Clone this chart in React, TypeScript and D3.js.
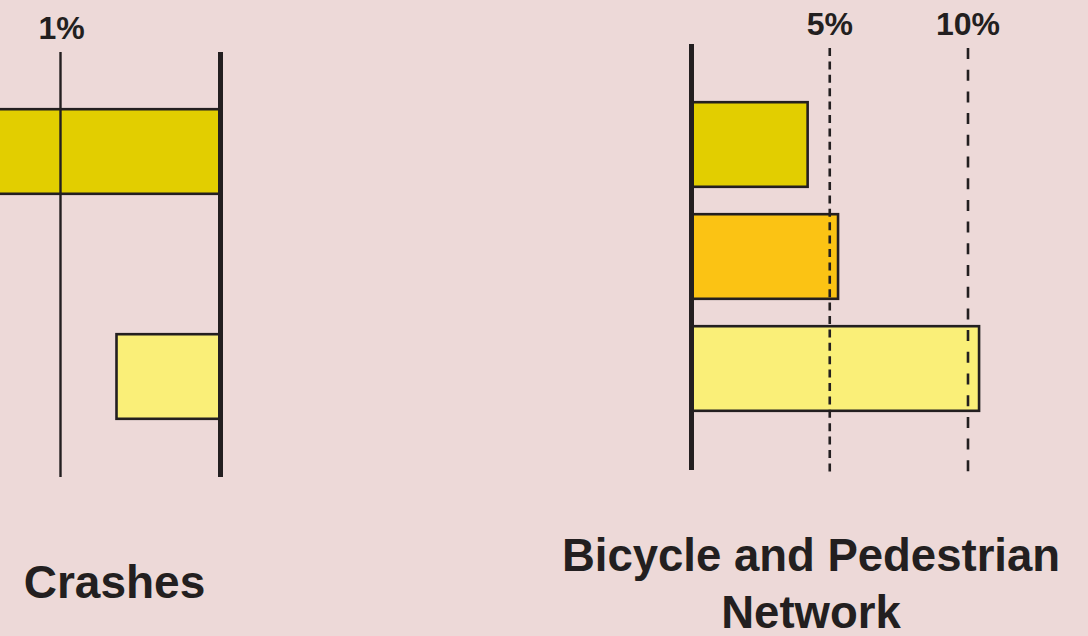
import React from "react";
import * as d3 from "d3";

const categories = ["Group A", "Group B", "Group C"];
const crashValues: (number | null)[] = [1.45, null, 0.65];
const networkValues: number[] = [4.2, 5.3, 10.4];
const barColors = ["#E2CE00", "#FBC314", "#FAEF78"];
const crashTicks = [1];
const networkTicks = [5, 10];
const crashTitle = ["Crashes"];
const networkTitle = ["Bicycle and Pedestrian", "Network"];

const W = 1088;
const H = 636;
const BG = "#EDD9D8";
const INK = "#231F20";
const FONT = "'Liberation Sans', Arial, Helvetica, sans-serif";

export default function App() {
  // Left panel: bars grow leftward from baseline
  const xL = d3.scaleLinear().domain([0, 1]).range([220.5, 60.5]);
  const yL = d3
    .scaleBand<string>()
    .domain(categories)
    .range([95.25, 432.75])
    .paddingInner(0.2267)
    .paddingOuter(0.11335);

  // Right panel
  const xR = d3.scaleLinear().domain([0, 10]).range([691.5, 968]);
  const yR = d3
    .scaleBand<string>()
    .domain(categories)
    .range([88.5, 424.5])
    .paddingInner(0.2232)
    .paddingOuter(0.1116);

  const tickDash = (t: number) => (t === 5 ? "8 5.4" : "11 10.7");

  return (
    <svg
      width={W}
      height={H}
      style={{ position: "absolute", left: 0, top: 0, display: "block" }}
      fontFamily={FONT}
    >
      <rect x={0} y={0} width={W} height={H} fill={BG} />

      {/* Left panel bars */}
      {crashValues.map((v, i) =>
        v == null ? null : (
          <rect
            key={"l" + i}
            x={xL(v)}
            y={(yL(categories[i]) as number) + 1.2}
            width={xL(0) - xL(v)}
            height={yL.bandwidth() - 2.4}
            fill={barColors[i]}
            stroke={INK}
            strokeWidth={2.6}
          />
        )
      )}
      {/* Left tick lines */}
      {crashTicks.map((t) => (
        <g key={"lt" + t}>
          <line x1={xL(t)} x2={xL(t)} y1={52} y2={477} stroke={INK} strokeWidth={2.4} />
          <text
            x={xL(t) + 1}
            y={39}
            textAnchor="middle"
            fontSize={32}
            fontWeight="bold"
            fill={INK}
          >
            {t}%
          </text>
        </g>
      ))}
      {/* Left baseline */}
      <line x1={xL(0)} x2={xL(0)} y1={52} y2={477} stroke={INK} strokeWidth={5} />

      {/* Right panel bars */}
      {networkValues.map((v, i) => (
        <rect
          key={"r" + i}
          x={xR(0)}
          y={(yR(categories[i]) as number) + 1.2}
          width={xR(v) - xR(0)}
          height={yR.bandwidth() - 2.4}
          fill={barColors[i]}
          stroke={INK}
          strokeWidth={2.6}
        />
      ))}
      {/* Right dashed ticks */}
      {networkTicks.map((t) => (
        <g key={"rt" + t}>
          <line
            x1={xR(t)}
            x2={xR(t)}
            y1={48}
            y2={474}
            stroke={INK}
            strokeWidth={2.6}
            strokeDasharray={tickDash(t)}
          />
          <text
            x={xR(t)}
            y={35}
            textAnchor="middle"
            fontSize={32}
            fontWeight="bold"
            fill={INK}
          >
            {t}%
          </text>
        </g>
      ))}
      {/* Right baseline */}
      <line x1={xR(0)} x2={xR(0)} y1={44} y2={470} stroke={INK} strokeWidth={5} />

      {/* Titles */}
      {crashTitle.map((s, i) => (
        <text
          key={"ct" + i}
          x={114.5}
          y={598 + i * 57}
          textAnchor="middle"
          fontSize={46}
          fontWeight="bold"
          fill={INK}
        >
          {s}
        </text>
      ))}
      {networkTitle.map((s, i) => (
        <text
          key={"nt" + i}
          x={811}
          y={571 + i * 56.5}
          textAnchor="middle"
          fontSize={45.5}
          fontWeight="bold"
          fill={INK}
        >
          {s}
        </text>
      ))}
    </svg>
  );
}
